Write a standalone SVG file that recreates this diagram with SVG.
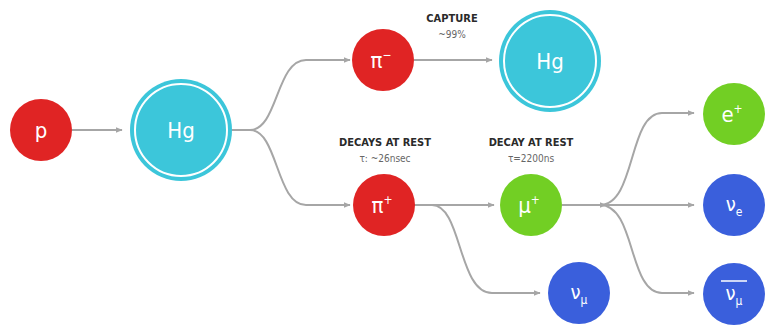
<svg xmlns="http://www.w3.org/2000/svg" width="768" height="326" viewBox="0 0 768 326">
<defs>
<marker id="ah" viewBox="0 0 10 10" refX="9" refY="5" markerWidth="7" markerHeight="7" markerUnits="userSpaceOnUse" orient="auto">
<path d="M0,1 L10,5 L0,9 Z" fill="#a6a6a6"/>
</marker>
</defs>
<style>
.con{fill:none;stroke:#a6a6a6;stroke-width:2}
.red{fill:#e02424}
.cyan{fill:#3cc6da}
.green{fill:#72cf24}
.blue{fill:#3a5fdc}
.ring{fill:none;stroke:#ffffff;stroke-width:2}
.lbl{font-family:"DejaVu Sans Condensed","DejaVu Sans",sans-serif;fill:#ffffff;text-anchor:middle}
.t1{font-family:"DejaVu Sans Condensed","DejaVu Sans",sans-serif;font-weight:bold;font-size:11px;fill:#2a2a2a;text-anchor:middle}
.t2{font-family:"DejaVu Sans Condensed","DejaVu Sans",sans-serif;font-size:10px;fill:#666666;text-anchor:middle}
</style>
<rect width="768" height="326" fill="#ffffff"/>
<g id="connectors">
<path class="con" marker-end="url(#ah)" d="M72,130 H122"/>
<path class="con" marker-end="url(#ah)" d="M231,130 H250 C278,130 276,60 306,60 H350"/>
<path class="con" marker-end="url(#ah)" d="M231,130 H250 C278,130 276,205 306,205 H350"/>
<path class="con" marker-end="url(#ah)" d="M414,60 H492"/>
<path class="con" marker-end="url(#ah)" d="M414,205 H494"/>
<path class="con" marker-end="url(#ah)" d="M414,205 H432 C462,205 458,293 492,293 H540"/>
<path class="con" marker-end="url(#ah)" d="M562,205 H606"/>
<path class="con" marker-end="url(#ah)" d="M600,205 C636,205 628,113 662,113 H694"/>
<path class="con" marker-end="url(#ah)" d="M600,205 H694"/>
<path class="con" marker-end="url(#ah)" d="M600,205 C636,205 628,293 662,293 H694"/>
</g>
<g id="node-p">
<circle class="red" cx="41" cy="130" r="31"/>
<text class="lbl" x="41" y="138" font-size="22">p</text>
</g>
<g id="node-hg1">
<circle class="cyan" cx="181" cy="130" r="51"/>
<circle class="ring" cx="181" cy="130" r="46"/>
<text class="lbl" x="181" y="138" font-size="22">Hg</text>
</g>
<g id="node-piminus">
<circle class="red" cx="383" cy="60" r="31"/>
<text class="lbl" x="381" y="68" font-size="22">π<tspan font-size="12" dy="-9">−</tspan></text>
</g>
<g id="label-capture">
<text class="t1" x="452" y="22">CAPTURE</text>
<text class="t2" x="452" y="38">~99%</text>
</g>
<g id="node-hg2">
<circle class="cyan" cx="550" cy="61" r="51"/>
<circle class="ring" cx="550" cy="61" r="46"/>
<text class="lbl" x="550" y="69" font-size="22">Hg</text>
</g>
<g id="label-decays">
<text class="t1" x="385" y="146">DECAYS AT REST</text>
<text class="t2" x="385" y="162">τ: ~26nsec</text>
</g>
<g id="node-piplus">
<circle class="red" cx="384" cy="205" r="31"/>
<text class="lbl" x="382" y="213" font-size="22">π<tspan font-size="12" dy="-9">+</tspan></text>
</g>
<g id="label-decay">
<text class="t1" x="531" y="146">DECAY AT REST</text>
<text class="t2" x="531" y="162">τ=2200ns</text>
</g>
<g id="node-muplus">
<circle class="green" cx="531" cy="205" r="31"/>
<text class="lbl" x="529" y="213" font-size="22">μ<tspan font-size="12" dy="-9">+</tspan></text>
</g>
<g id="node-numu">
<circle class="blue" cx="579" cy="293" r="31"/>
<text class="lbl" x="579" y="299" font-size="20">ν<tspan font-size="12" dy="5">μ</tspan></text>
</g>
<g id="node-eplus">
<circle class="green" cx="734" cy="114" r="31"/>
<text class="lbl" x="732" y="122" font-size="22">e<tspan font-size="12" dy="-9">+</tspan></text>
</g>
<g id="node-nue">
<circle class="blue" cx="734" cy="205" r="31"/>
<text class="lbl" x="734" y="211" font-size="20">ν<tspan font-size="12" dy="5">e</tspan></text>
</g>
<g id="node-numubar">
<circle class="blue" cx="734" cy="294" r="31"/>
<line x1="721" y1="281" x2="747" y2="281" stroke="#ffffff" stroke-width="1.5"/>
<text class="lbl" x="734" y="300" font-size="20">ν<tspan font-size="12" dy="5">μ</tspan></text>
</g>
</svg>
